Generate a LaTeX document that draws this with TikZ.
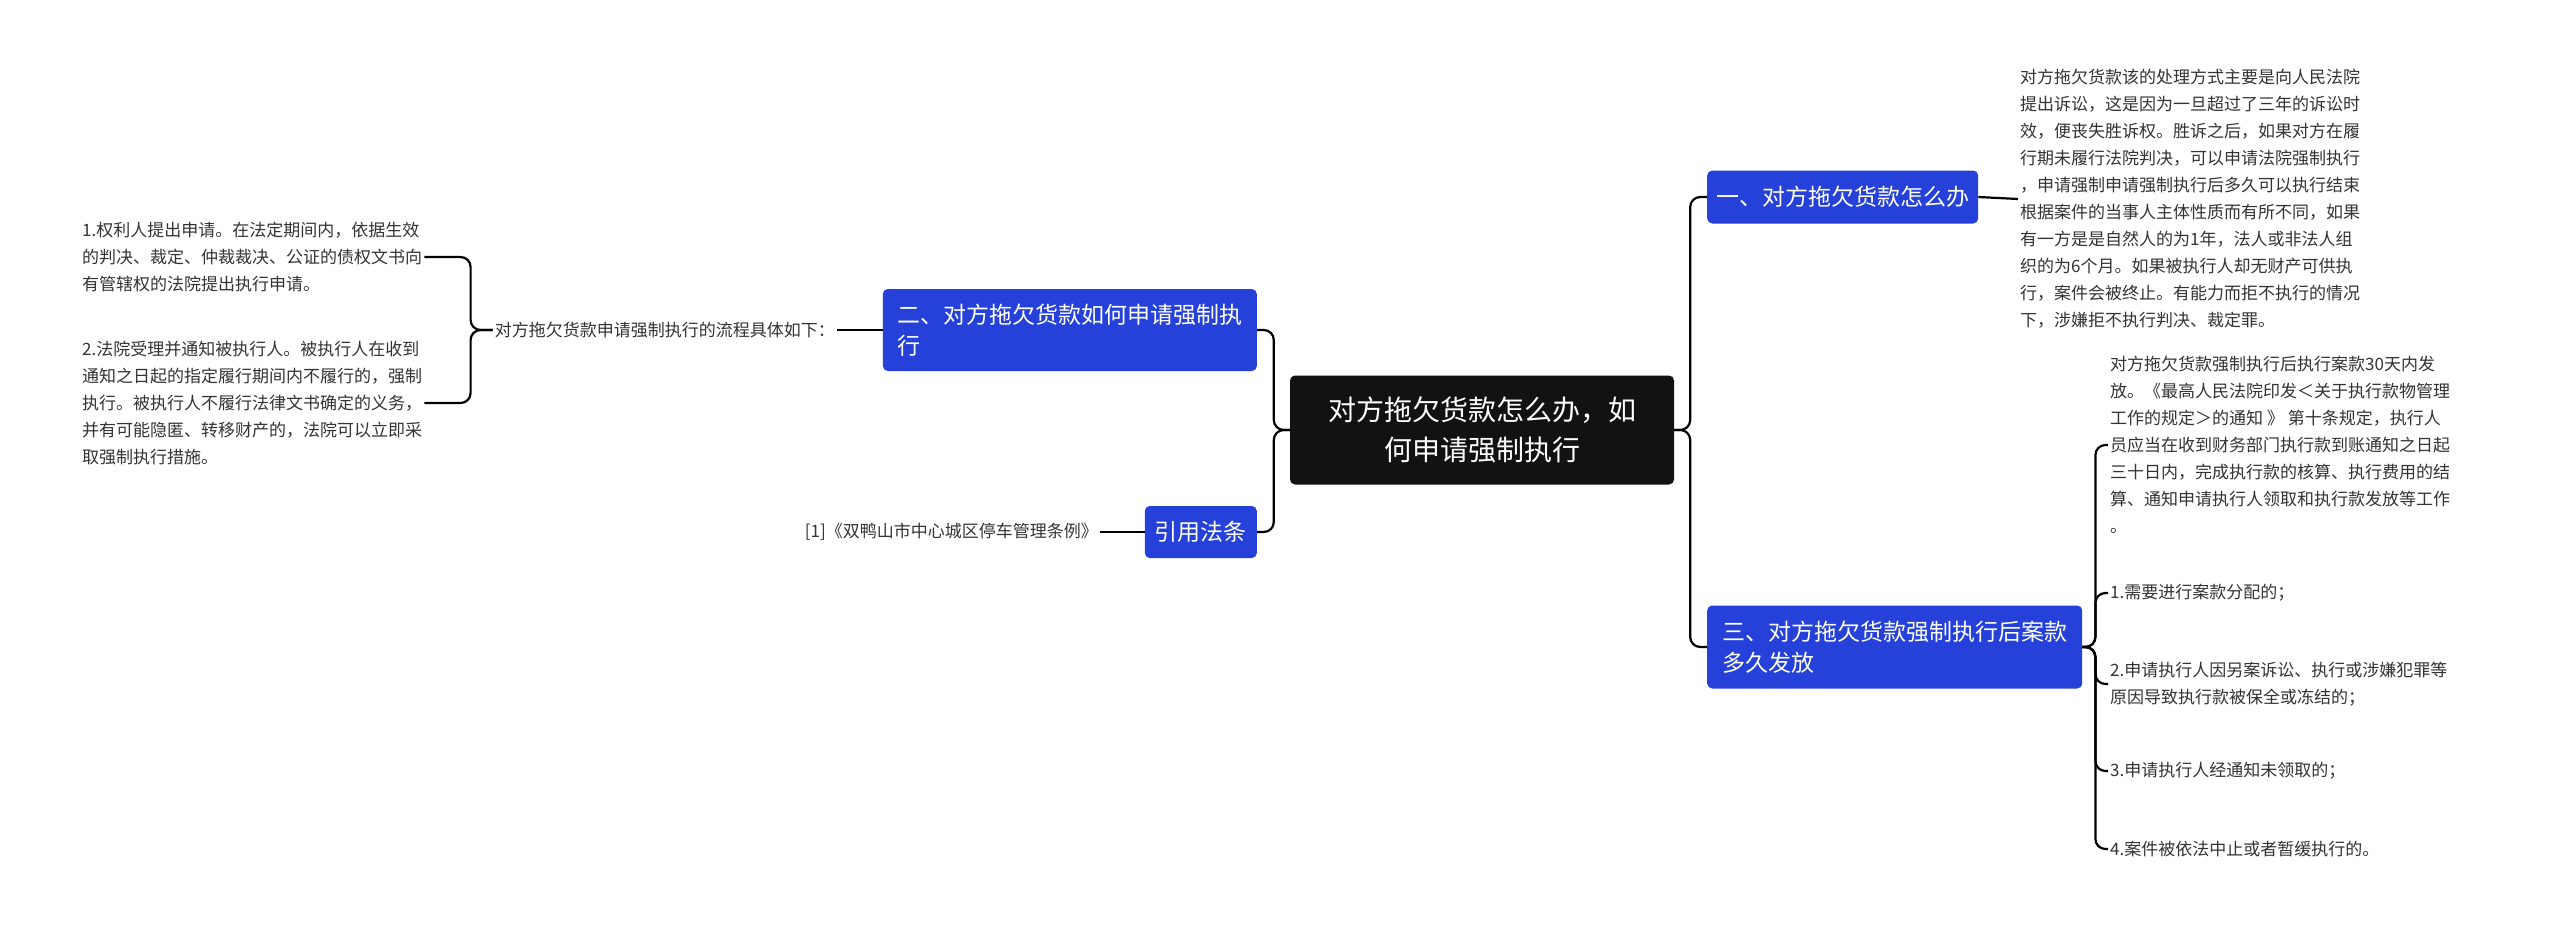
\documentclass[tikz,border=0pt]{standalone}
\usepackage{fontspec}
\setmainfont{Noto Sans CJK SC}
\definecolor{bl}{HTML}{2541D9}
\definecolor{tx}{HTML}{333333}
\begin{document}
\begin{tikzpicture}[x=1pt,y=-1pt,
  br/.style={fill=bl,text=white,rounded corners=5pt,font=\fontsize{23}{31}\selectfont,align=left,inner sep=7pt,anchor=west},
  leaf/.style={text=tx,font=\fontsize{17}{27}\selectfont,align=left,inner sep=2pt},
  ln/.style={draw=black,line width=2.2pt,rounded corners=10pt}]
\useasboundingbox[fill=white] (0,0) rectangle (2560,945);
\node[fill=black!93,text=white,rounded corners=5pt,font=\fontsize{28}{40}\selectfont,align=center,minimum width=384,minimum height=109] (c) at (1482,430) {对方拖欠货款怎么办，如\\何申请强制执行};
\node[br,minimum width=271,minimum height=53] (b1) at (1707,197) {一、对方拖欠货款怎么办};
\node[br,minimum width=375,minimum height=83] (b3) at (1707,647) {三、对方拖欠货款强制执行后案款\\多久发放};
\node[br,minimum width=374,minimum height=82,anchor=east] (b2) at (1257,330) {二、对方拖欠货款如何申请强制执\\行};
\node[br,minimum width=112,minimum height=52,anchor=east] (b4) at (1257,532) {引用法条};
\node[leaf,anchor=west] (t1) at (2018,199) {对方拖欠货款该的处理方式主要是向人民法院\\提出诉讼，这是因为一旦超过了三年的诉讼时\\效，便丧失胜诉权。胜诉之后，如果对方在履\\行期未履行法院判决，可以申请法院强制执行\\，申请强制申请强制执行后多久可以执行结束\\根据案件的当事人主体性质而有所不同，如果\\有一方是是自然人的为1年，法人或非法人组\\织的为6个月。如果被执行人却无财产可供执\\行，案件会被终止。有能力而拒不执行的情况\\下，涉嫌拒不执行判决、裁定罪。};
\node[leaf,anchor=west] (s1) at (2108,445) {对方拖欠货款强制执行后执行案款30天内发\\放。《最高人民法院印发＜关于执行款物管理\\工作的规定＞的通知 》 第十条规定，执行人\\员应当在收到财务部门执行款到账通知之日起\\三十日内，完成执行款的核算、执行费用的结\\算、通知申请执行人领取和执行款发放等工作\\。};
\node[leaf,anchor=west] (s2) at (2108,593) {1.需要进行案款分配的；};
\node[leaf,anchor=west] (s3) at (2108,684) {2.申请执行人因另案诉讼、执行或涉嫌犯罪等\\原因导致执行款被保全或冻结的；};
\node[leaf,anchor=west] (s4) at (2108,771) {3.申请执行人经通知未领取的；};
\node[leaf,anchor=west] (s5) at (2108,849) {4.案件被依法中止或者暂缓执行的。};
\node[leaf,anchor=east] (l0) at (837,330) {对方拖欠货款申请强制执行的流程具体如下：};
\node[leaf,anchor=west] (l1) at (80,257) {1.权利人提出申请。在法定期间内，依据生效\\的判决、裁定、仲裁裁决、公证的债权文书向\\有管辖权的法院提出执行申请。};
\node[leaf,anchor=west] (l2) at (80,403) {2.法院受理并通知被执行人。被执行人在收到\\通知之日起的指定履行期间内不履行的，强制\\执行。被执行人不履行法律文书确定的义务，\\并有可能隐匿、转移财产的，法院可以立即采\\取强制执行措施。};
\node[leaf,anchor=east] (r1) at (1100,532) {[1]《双鸭山市中心城区停车管理条例》};
\draw[ln] (c.east) -- ++(16,0) |- (b1.west);
\draw[ln] (c.east) -- ++(16,0) |- (b3.west);
\draw[ln] (c.west) -- ++(-16,0) |- (b2.east);
\draw[ln] (c.west) -- ++(-16,0) |- (b4.east);
\draw[ln] (b1.east) -- (t1.west);
\foreach \s in {s1,s2,s3,s4,s5} \draw[ln] (b3.east) -- ++(13,0) |- (\s.west);
\draw[ln] (b2.west) -- (l0.east);
\draw[ln] (l0.west) -- ++(-22,0) |- (l1.east);
\draw[ln] (l0.west) -- ++(-22,0) |- (l2.east);
\draw[ln] (b4.west) -- (r1.east);
\end{tikzpicture}
\end{document}
